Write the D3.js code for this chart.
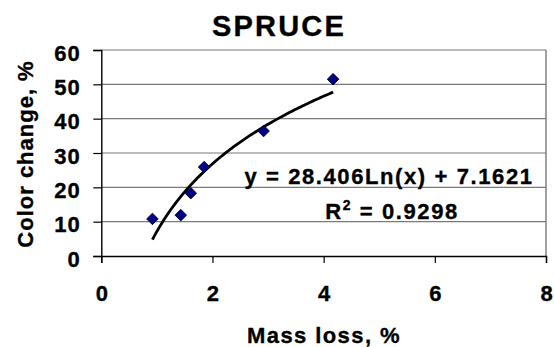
<!DOCTYPE html>
<html>
<head>
<meta charset="utf-8">
<script src="https://cdn.jsdelivr.net/npm/d3@7"></script>
<style>
  html, body { margin: 0; padding: 0; background: #fff; }
  svg { display: block; font-family: "Liberation Sans", Arial, sans-serif; font-weight: bold; }
  svg text { stroke: #000; stroke-width: 0.35px; fill: #000; }
</style>
</head>
<body>
<svg id="chart" width="554" height="347"></svg>
<script>
// ---- data ----
const title = "SPRUCE";
const xLabel = "Mass loss, %";
const yLabel = "Color change, %";
const massLoss = [0.92, 1.43, 1.61, 1.85, 2.92, 4.17];
const colorChange = [10.8, 11.9, 18.3, 25.9, 36.4, 51.5];
const xTicks = [0, 2, 4, 6, 8];
const yTicks = [0, 10, 20, 30, 40, 50, 60];
const trendA = 28.406;
const trendB = 7.1621;
const eqText = "y = 28.406Ln(x) + 7.1621";
const r2Value = "0.9298";

// ---- layout ----
const svg = d3.select("#chart");
const plotL = 101.3, plotR = 546, plotT = 50, plotB = 256;
const x = d3.scaleLinear().domain([0, 8]).range([plotL, plotR]);
const y = d3.scaleLinear().domain([0, 60]).range([plotB, plotT]);

// gridlines
svg.append("g").selectAll("line").data(yTicks.filter(d => d > 0)).join("line")
  .attr("x1", plotL).attr("x2", plotR)
  .attr("y1", d => y(d)).attr("y2", d => y(d))
  .attr("stroke", "#7a7a7a").attr("stroke-width", 1.2);
// right border
svg.append("line").attr("x1", plotR).attr("x2", plotR).attr("y1", plotT).attr("y2", plotB)
  .attr("stroke", "#7a7a7a").attr("stroke-width", 1.4);

// axes
const yAxis = d3.axisLeft(y).tickValues(yTicks).tickSize(8).tickFormat(d3.format("d"));
const gy = svg.append("g").attr("transform", `translate(${plotL},0)`).call(yAxis);
gy.select(".domain").attr("stroke", "#000").attr("stroke-width", 1.4);
gy.selectAll(".tick line").attr("stroke", "#000").attr("stroke-width", 1.2);
gy.selectAll(".tick text")
  .attr("x", -20.5).attr("dy", "0.32em").attr("y", 3)
  .style("font-size", "22px").style("font-weight", "bold")
  .style("font-family", "'Liberation Sans', Arial, sans-serif").style("letter-spacing", "1px");

const xAxis = d3.axisBottom(x).tickValues(xTicks).tickSize(7).tickFormat(d3.format("d"));
const gx = svg.append("g").attr("transform", `translate(0,${plotB})`).call(xAxis);
gx.select(".domain").attr("stroke", "#000").attr("stroke-width", 1.4);
gx.selectAll(".tick line").attr("stroke", "#000").attr("stroke-width", 1.2);
gx.selectAll(".tick text")
  .attr("y", 44.5).attr("dy", 0)
  .style("font-size", "22px").style("font-weight", "bold")
  .style("font-family", "'Liberation Sans', Arial, sans-serif");

// trend line
const tx = d3.range(0, 101).map(i => massLoss[0] + (massLoss[massLoss.length - 1] - massLoss[0]) * i / 100);
const line = d3.line().x(d => x(d)).y(d => y(trendA * Math.log(d) + trendB));
svg.append("path").datum(tx).attr("d", line)
  .attr("fill", "none").attr("stroke", "#000").attr("stroke-width", 2.8);

// markers
const pts = massLoss.map((m, i) => [m, colorChange[i]]);
svg.append("g").selectAll("path").data(pts).join("path")
  .attr("d", d3.symbol().type(d3.symbolDiamond2).size(85))
  .attr("transform", d => `translate(${x(d[0])},${y(d[1])})`)
  .attr("fill", "#000080").attr("stroke", "#000022").attr("stroke-width", 0.9);

// equation
svg.append("text").attr("x", 389).attr("y", 184.3).attr("text-anchor", "middle")
  .style("font-size", "22px").style("letter-spacing", "1.6px").text(eqText);
const r2 = svg.append("text").attr("x", 392).attr("y", 218.5).attr("text-anchor", "middle")
  .style("font-size", "22px").style("letter-spacing", "1.6px");
r2.append("tspan").text("R");
r2.append("tspan").attr("dy", -9).style("font-size", "14px").text("2");
r2.append("tspan").attr("dy", 9).text(" = " + r2Value);

// title
svg.append("text").attr("x", 279).attr("y", 36).attr("text-anchor", "middle")
  .style("font-size", "29px").style("letter-spacing", "2.2px").text(title);

// axis labels
svg.append("text").attr("x", 324).attr("y", 342.5).attr("text-anchor", "middle")
  .style("font-size", "22px").style("letter-spacing", "1.4px").text(xLabel);
svg.append("text").attr("transform", "translate(33,154) rotate(-90)").attr("text-anchor", "middle")
  .style("font-size", "22px").style("letter-spacing", "1px").text(yLabel);
</script>
</body>
</html>
